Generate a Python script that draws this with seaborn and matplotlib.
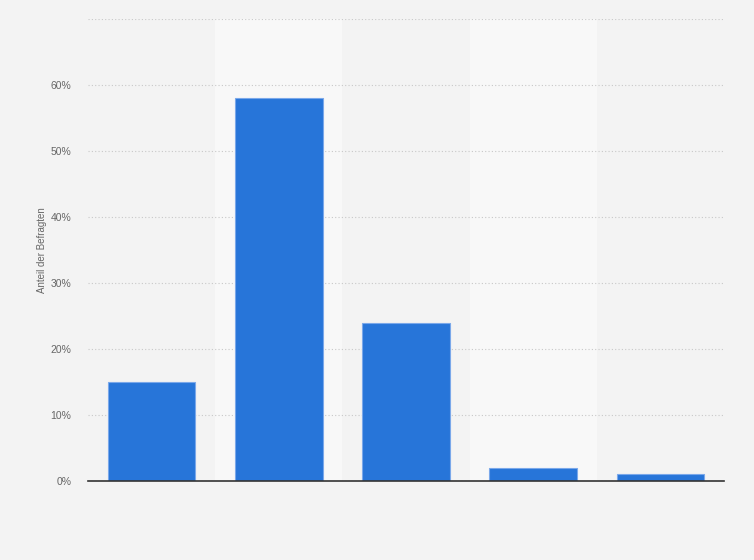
import matplotlib
matplotlib.use("Agg")
import matplotlib.pyplot as plt
import seaborn as sns
import pandas as pd

categories = ["Kategorie 1", "Kategorie 2", "Kategorie 3", "Kategorie 4", "Kategorie 5"]
values = [15, 58, 24, 2, 1]
yticks = [0, 10, 20, 30, 40, 50, 60]
ytick_labels = ["0%", "10%", "20%", "30%", "40%", "50%", "60%"]

sns.set_theme(style="white")
plt.rcParams["font.family"] = ["Liberation Sans", "DejaVu Sans"]

df = pd.DataFrame({"cat": categories, "val": values})

fig = plt.figure(figsize=(7.54, 5.60), dpi=100)
fig.patch.set_facecolor("#f3f3f3")
ax = fig.add_axes([88/754, 1-481/560, (724-88)/754, (481-19)/560])
ax.set_facecolor("#f3f3f3")

# alternating column bands
for i in range(len(categories)):
    if i % 2 == 1:
        ax.axvspan(i-0.5, i+0.5, color="#f8f8f8", zorder=0, lw=0)

sns.barplot(data=df, x="cat", y="val", color="#2775d9", width=0.69,
            edgecolor="#7aa8ea", linewidth=0.8, saturation=1, ax=ax, zorder=3)

ax.set_xlim(-0.5, len(categories)-0.5)
ax.set_ylim(0, 70)
ax.set_yticks(yticks + [70])
ax.set_yticklabels(ytick_labels + [""])
ax.yaxis.grid(True, linestyle=(0, (1, 2)), color="#c8c8c8", linewidth=0.8, zorder=1)
ax.xaxis.grid(False)
ax.set_axisbelow(True)
ax.tick_params(axis="y", length=0, labelsize=7.5, colors="#666666", pad=12)
ax.tick_params(axis="x", length=0)
ax.set_xticklabels([])
ax.set_xlabel("")
ax.set_ylabel("Anteil der Befragten", fontsize=7, color="#666666", labelpad=2.5)
for s in ["top", "right", "left"]:
    ax.spines[s].set_visible(False)
ax.spines["bottom"].set_color("#333333")
ax.spines["bottom"].set_linewidth(1.2)
ax.spines["bottom"].set_zorder(5)

fig.savefig("out.png", dpi=100, facecolor=fig.get_facecolor())
